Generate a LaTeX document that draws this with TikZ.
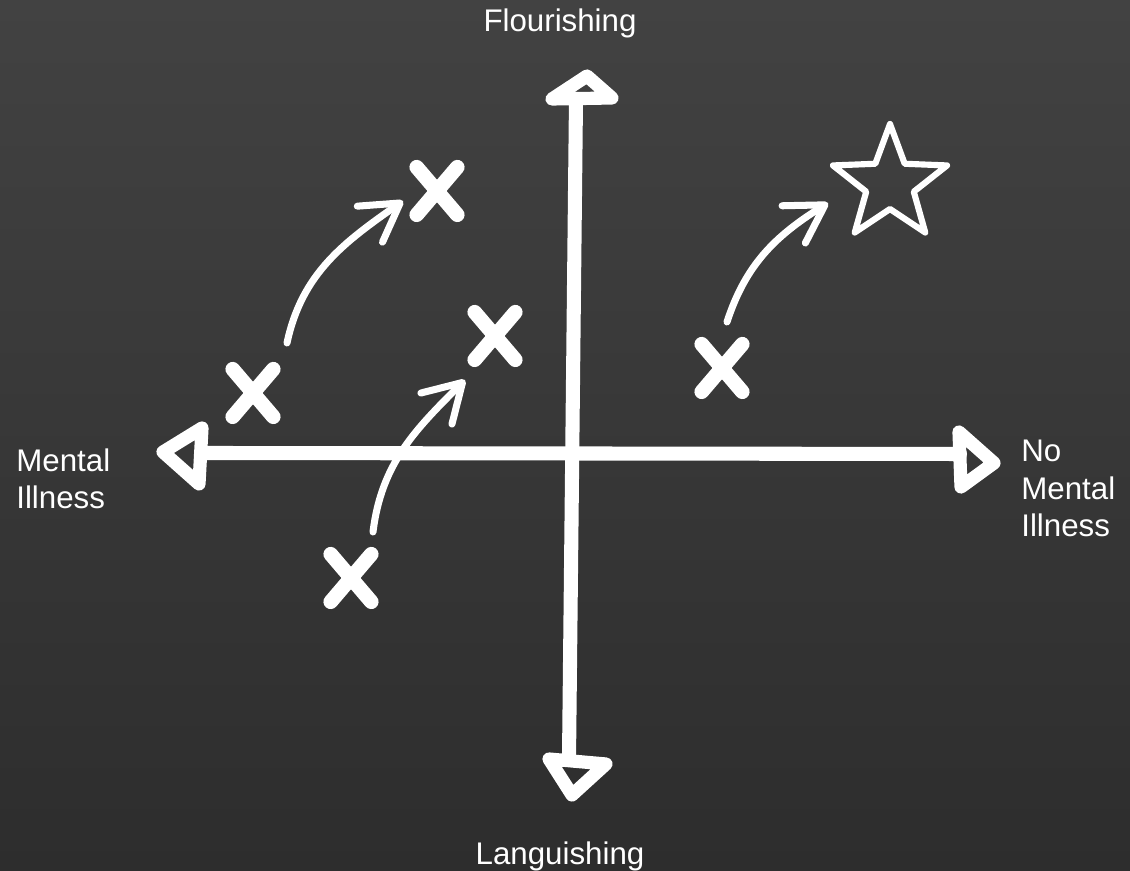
\documentclass[tikz,border=0pt]{standalone}
\usepackage{fontspec}
\setmainfont{Liberation Sans}
\usepackage{tikz}
\usetikzlibrary{arrows.meta,positioning,shapes.geometric,shapes.misc}
\definecolor{boardtop}{HTML}{424242}
\definecolor{boardbot}{HTML}{2D2D2D}

\begin{document}
\begin{tikzpicture}[
    x=0.02cm, y=0.02cm,
    chalk/.style={draw=white, line cap=round, line join=round},
    axisline/.style={chalk, line width=8pt},
    axishead/.style={chalk, line width=7.5pt},
    xmark/.style={cross out, chalk, line width=8.3pt, minimum width=0.52cm, minimum height=0.66cm, inner sep=0pt},
    goal/.style={star, star points=5, star point ratio=2.4, chalk, line width=3.5pt, minimum size=2.4cm, inner sep=0pt},
    move/.style={chalk, line width=4pt, -{Straight Barb[length=21pt, width=25pt, round]}},
    axislabel/.style={text=white, font=\fontsize{17.8}{21.3}\selectfont, inner sep=0pt},
]
% Chalkboard
\useasboundingbox (0,0) rectangle (1130,871);
\shade[top color=boardtop, bottom color=boardbot] (0,0) rectangle (1130,871);

% Axis ends
\coordinate (ytop) at (576,772);
\coordinate (ybot) at (569,112);
\coordinate (xleft) at (202,418);
\coordinate (xright) at (960,417);

% Marks
\foreach \name/\px/\py in {xa/253/478, xb/437/680, xc/495/535, xd/351/293, xe/722/503} {
    \node[xmark] (\name) at (\px,\py) {};
}
\node[goal] (star) at (890,687) {};

% Moves
\draw[move] ([shift={(34,50)}]xa.center) to[out=78, in=215] ([shift={(-34,-10)}]xb.center);
\draw[move] ([shift={(22,46)}]xd.center) to[out=83, in=225] ([shift={(-30,-44)}]xc.center);
\draw[move] ([shift={(5,46)}]xe.center) to[out=72, in=212] ([shift={(-62,-19)}]star.center);

% Axes
\draw[axisline] (ybot) -- (ytop);
\draw[axisline] (xleft) -- (xright);
\draw[axishead] (587,795) -- (552,772) -- (612,773) -- cycle;
\draw[axishead] (549,112) -- (606,107) -- (572,76) -- cycle;
\draw[axishead] (163,419) -- (202,443) -- (199,387) -- cycle;
\draw[axishead] (959,439) -- (994,408) -- (961,384) -- cycle;

% Labels
\node[axislabel, anchor=base] (flour) at (560,839) {Flourishing};
\node[axislabel, anchor=base] (lang) at (560,6) {Languishing};
\node[axislabel, anchor=north west, align=left] (ill) at (16,423) {Mental\\Illness};
\node[axislabel, anchor=north west, align=left] (noill) at (1021,431) {No\\Mental\\Illness};

\end{tikzpicture}
\end{document}
